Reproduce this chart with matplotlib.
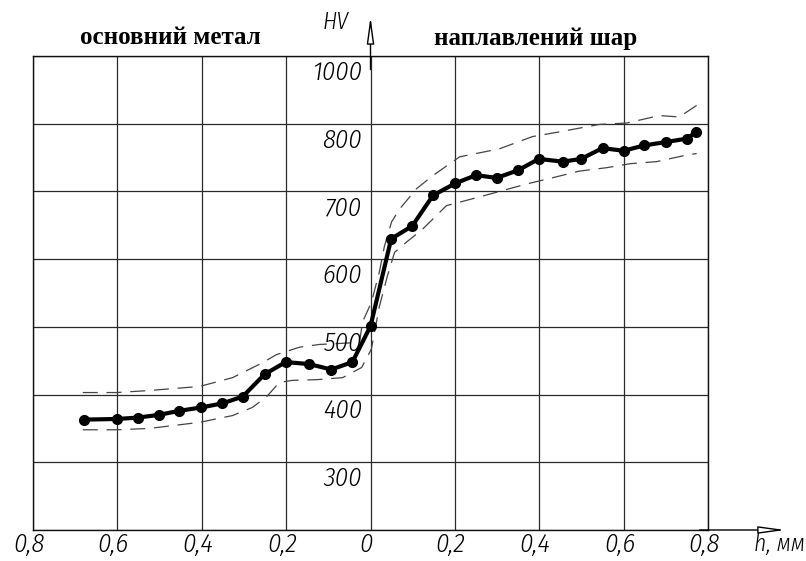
import matplotlib
matplotlib.use("Agg")
import matplotlib.pyplot as plt
from matplotlib import font_manager as fm
from matplotlib.font_manager import FontProperties
from matplotlib.ft2font import FT2Font

# ---------------- data ----------------
h_mm = [-0.678, -0.600, -0.551, -0.502, -0.453, -0.401, -0.351, -0.303, -0.251,
        -0.201, -0.145, -0.093, -0.043, 0.000, 0.049, 0.099, 0.148, 0.201, 0.250,
        0.299, 0.349, 0.399, 0.456, 0.499, 0.550, 0.600, 0.649, 0.701, 0.750, 0.772]
hv = [363, 364, 366, 370, 376, 381, 387, 397, 430,
      448, 445, 437, 448, 501, 630, 649, 694, 712, 724,
      720, 731, 748, 744, 748, 764, 760, 768, 773, 778, 788]

upper_x = [-0.682, -0.602, -0.524, -0.405, -0.327, -0.256, -0.223, -0.168, -0.121,
           -0.026, -0.019, 0.002, 0.021, 0.033, 0.050, 0.069, 0.109, 0.147, 0.211,
           0.306, 0.384, 0.448, 0.543, 0.607, 0.685, 0.732, 0.773]
upper_hv = [403, 403, 406, 412, 425, 447, 459, 470, 474,
            477, 507, 536, 581, 619, 655, 674, 704, 723, 751,
            763, 781, 788, 799, 801, 812, 810, 827]

lower_x = [-0.682, -0.602, -0.524, -0.405, -0.327, -0.280, -0.246, -0.216, -0.185,
           -0.128, -0.066, -0.021, 0.002, 0.021, 0.040, 0.057, 0.085, 0.123, 0.180,
           0.265, 0.370, 0.424, 0.495, 0.559, 0.616, 0.678, 0.744, 0.773]
lower_hv = [348, 348, 350, 359, 369, 381, 397, 418, 421,
            422, 425, 440, 467, 530, 575, 610, 625, 644, 679,
            693, 711, 719, 730, 735, 741, 744, 753, 756]

x_ticks = [-0.8, -0.6, -0.4, -0.2, 0.0, 0.2, 0.4, 0.6, 0.8]
x_labels = ["0,8", "0,6", "0,4", "0,2", "0", "0,2", "0,4", "0,6", "0,8"]
y_grid = [200, 300, 400, 500, 600, 700, 800, 900]
y_label_pos = [300, 400, 500, 600, 700, 800, 900]
y_labels = ["300", "400", "500", "600", "700", "800", "1000"]

title_left = "основний метал"
title_right = "наплавлений шар"
y_name = "HV"
x_name = "h, мм"


# ---------------- fonts ----------------
def has_cyrillic(fname):
    try:
        cm = FT2Font(fname).get_charmap()
        return ord("м") in cm and ord("0") in cm
    except Exception:
        return False


def pick_narrow_italic():
    best, best_score = None, None
    for f in fm.fontManager.ttflist:
        narrow = (str(f.stretch) in ("condensed", "semi-condensed", "extra-condensed",
                                     "ultra-condensed")
                  or "Narrow" in f.name or "Condensed" in f.name)
        italic = f.style in ("italic", "oblique")
        if narrow and italic and has_cyrillic(f.fname):
            w = f.weight if isinstance(f.weight, int) else 400
            score = abs(w - 300)
            if best_score is None or score < best_score:
                best, best_score = f.fname, score
    return best


fn = pick_narrow_italic()
if fn:
    tick_fp = FontProperties(fname=fn, size=19)
    name_fp = FontProperties(fname=fn, size=17)
else:
    tick_fp = FontProperties(family="DejaVu Sans", style="oblique", size=15)
    name_fp = FontProperties(family="DejaVu Sans", style="oblique", size=14)

title_fp = FontProperties(family="Liberation Serif", weight="bold", size=18)

# ---------------- figure ----------------
W, H = 806, 561
fig = plt.figure(figsize=(W / 100, H / 100), dpi=100)
ax = fig.add_axes([33 / W, 31 / H, 675 / W, 474 / H])
ax.set_xlim(-0.8, 0.8)
ax.set_ylim(200, 900)
ax.set_xticks(x_ticks)
ax.set_yticks(y_grid)
ax.tick_params(length=0, labelbottom=False, labelleft=False)
ax.grid(True, color="#2a2a2a", lw=0.9)
for s in ax.spines.values():
    s.set_color("#111111")
    s.set_linewidth(1.0)

# envelope (dashed)
ax.plot(upper_x, upper_hv, color="#444444", lw=0.9, dashes=(12, 7), zorder=3)
ax.plot(lower_x, lower_hv, color="#444444", lw=0.9, dashes=(12, 7), zorder=3)

# main curve
ax.plot(h_mm, hv, color="black", lw=3.0, marker="o", ms=7, zorder=4,
        solid_joinstyle="round", solid_capstyle="round")

# axes arrows
ax.annotate("", xy=(0, 958), xytext=(0, 880), xycoords="data",
            annotation_clip=False,
            arrowprops=dict(arrowstyle="-|>,head_length=1.6,head_width=0.22",
                            lw=1.0, color="black", fc="white", shrinkA=0, shrinkB=0))
ax.annotate("", xy=(0.983, 200), xytext=(0.78, 200), xycoords="data",
            annotation_clip=False,
            arrowprops=dict(arrowstyle="-|>,head_length=1.6,head_width=0.22",
                            lw=1.0, color="black", fc="white", shrinkA=0, shrinkB=0))

# tick labels
for x, lab in zip(x_ticks, x_labels):
    ax.annotate(lab, xy=(x, 200), xytext=(-3, -2), textcoords="offset points",
                ha="center", va="top", fontproperties=tick_fp, annotation_clip=False)
for y, lab in zip(y_label_pos, y_labels):
    ax.annotate(lab, xy=(0, y), xytext=(-6, -3), textcoords="offset points",
                ha="right", va="top", fontproperties=tick_fp, annotation_clip=False)

# axis names
ax.annotate(y_name, xy=(0, 958), xytext=(-16, 4), textcoords="offset points",
            ha="right", va="top", fontproperties=name_fp, annotation_clip=False)
ax.annotate(x_name, xy=(0.983, 200), xytext=(14, -2), textcoords="offset points",
            ha="right", va="top", fontproperties=name_fp, annotation_clip=False)

# titles
fig.text(170 / W, 1 - 38 / H, title_left, ha="center", va="center",
         fontproperties=title_fp)
fig.text(536 / W, 1 - 38 / H, title_right, ha="center", va="center",
         fontproperties=title_fp)

fig.savefig("out.png", dpi=100, facecolor="white")
